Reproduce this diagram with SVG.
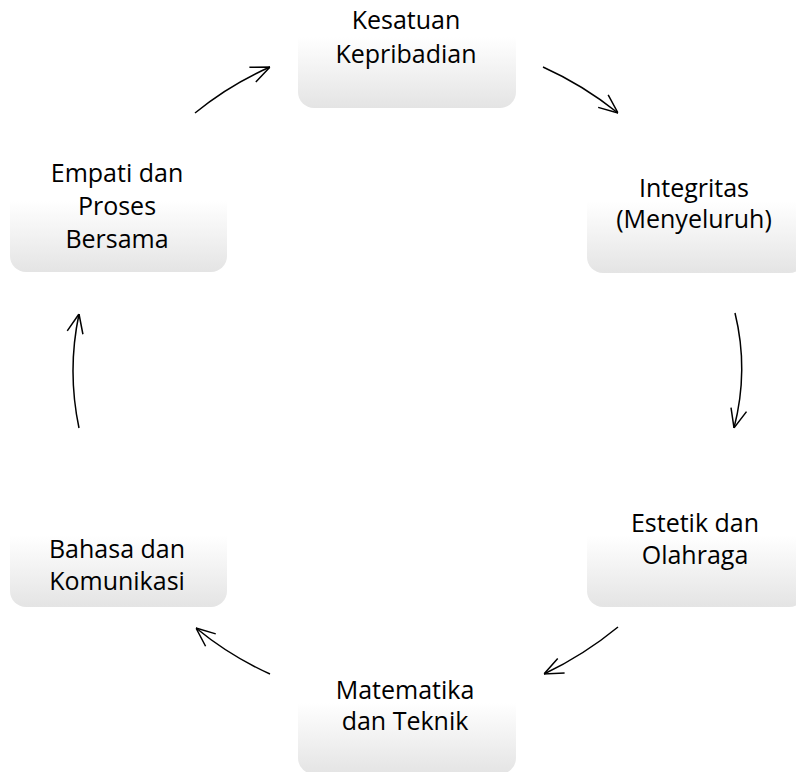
<svg xmlns="http://www.w3.org/2000/svg" width="796" height="772" viewBox="0 0 796 772">
  <defs>
    <linearGradient id="boxfill" x1="0" y1="0" x2="0" y2="1">
      <stop offset="0" stop-color="#ffffff"/>
      <stop offset="0.45" stop-color="#ffffff"/>
      <stop offset="1" stop-color="#e4e4e4"/>
    </linearGradient>
    <marker id="ah" viewBox="0 0 20 18" refX="20" refY="9" markerWidth="20" markerHeight="18" markerUnits="userSpaceOnUse" orient="auto">
      <path d="M1,1 L20,9 L1,17" fill="none" stroke="#000" stroke-width="1.5"/>
    </marker>
  </defs>
  <style>
    .box { fill: url(#boxfill); stroke: none; }
    .lbl { font-family: "Open Sans", "Noto Sans", sans-serif; font-size: 25px; fill: #000; text-anchor: middle; }
    .conn { fill: none; stroke: #000; stroke-width: 1.5; marker-end: url(#ah); }
  </style>
  <rect width="796" height="772" fill="#ffffff"/>

  <g id="node-kesatuan">
    <rect class="box" x="298" y="-22" width="218" height="130" rx="16"/>
    <text class="lbl" x="406" y="29">Kesatuan</text>
    <text class="lbl" x="406" y="63">Kepribadian</text>
  </g>
  <g id="node-integritas">
    <rect class="box" x="587" y="143" width="218" height="130" rx="16"/>
    <text class="lbl" x="694" y="197">Integritas</text>
    <text class="lbl" x="694" y="228">(Menyeluruh)</text>
  </g>
  <g id="node-estetik">
    <rect class="box" x="587" y="477" width="218" height="130" rx="16"/>
    <text class="lbl" x="695" y="532">Estetik dan</text>
    <text class="lbl" x="695" y="564">Olahraga</text>
  </g>
  <g id="node-matematika">
    <rect class="box" x="298" y="644" width="218" height="130" rx="16"/>
    <text class="lbl" x="405" y="699">Matematika</text>
    <text class="lbl" x="405" y="730">dan Teknik</text>
  </g>
  <g id="node-bahasa">
    <rect class="box" x="10" y="477" width="217" height="130" rx="16"/>
    <text class="lbl" x="117" y="558">Bahasa dan</text>
    <text class="lbl" x="117" y="590">Komunikasi</text>
  </g>
  <g id="node-empati">
    <rect class="box" x="10" y="142" width="217" height="130" rx="16"/>
    <text class="lbl" x="117" y="182">Empati dan</text>
    <text class="lbl" x="117" y="215">Proses</text>
    <text class="lbl" x="117" y="248">Bersama</text>
  </g>

  <g id="connectors">
    <path class="conn" d="M195,113 Q229,85 270,67"/>
    <path class="conn" d="M543,67 Q583,85 618,113"/>
    <path class="conn" d="M735,313 Q749,370 734,428"/>
    <path class="conn" d="M618,627 Q584,655 544,674"/>
    <path class="conn" d="M270,674 Q230,656 196,628"/>
    <path class="conn" d="M79,428 Q67,371 79,314"/>
  </g>
</svg>
